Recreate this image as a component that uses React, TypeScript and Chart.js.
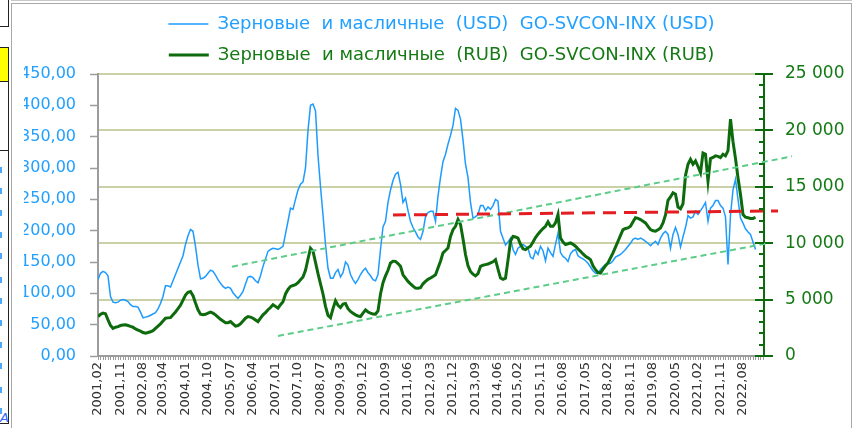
import React, { useEffect, useRef } from 'react';
import { Chart, registerables } from 'chart.js';

Chart.register(...registerables);

// ---- data ----
const TICK_LABELS = [
  '2001.02', '2001.11', '2002.08', '2003.04', '2004.01', '2004.10', '2005.07', '2006.04',
  '2007.01', '2007.10', '2008.07', '2009.03', '2009.12', '2010.09', '2011.06', '2012.03',
  '2012.12', '2013.09', '2014.06', '2015.02', '2015.11', '2016.08', '2017.05', '2018.02',
  '2018.11', '2019.08', '2020.05', '2021.02', '2021.11', '2022.08',
];

// monthly values from 2001.02 onward
const USD = [
  122, 132, 135, 133, 128, 95, 86, 85, 86, 89, 90, 89,
  87, 82, 79, 79, 78, 70, 61, 62, 63, 65, 67, 69,
  75, 84, 95, 112, 112, 110, 120, 130, 140, 150, 160, 178,
  192, 202, 199, 175, 145, 123, 124, 127, 132, 137, 135, 129,
  122, 116, 111, 108, 110, 108, 101, 96, 92, 97, 103, 115,
  126, 127, 125, 120, 117, 128, 143, 155, 167, 170, 172, 171,
  170, 172, 175, 195, 215, 236, 234, 250, 265, 274, 278, 300,
  360, 400, 402, 391, 320, 270, 225, 178, 140, 124, 124, 133,
  138, 126, 133, 150, 145, 130, 122, 116, 122, 130, 136, 140,
  133, 128, 122, 120, 130, 170, 206, 215, 245, 265, 280, 290,
  293, 274, 245, 252, 232, 215, 205, 198, 190, 186, 199, 222,
  229, 231, 231, 215, 255, 285, 310, 322, 338, 352, 368, 395,
  392, 378, 345, 306, 285, 245, 220, 222, 226, 240, 240, 232,
  238, 234, 240, 250, 247, 199, 188, 177, 182, 188, 170, 162,
  172, 175, 178, 175, 172, 158, 155, 168, 162, 175, 168, 152,
  172, 165, 159, 178, 196, 165, 159, 156, 151, 163, 168, 170,
  160, 157, 155, 152, 148, 142, 136, 132, 132, 138, 142, 146,
  147, 148, 152, 158, 160, 162, 166, 170, 175, 180, 186, 188,
  186, 188, 186, 183, 180, 176, 180, 183, 178, 188, 195, 199,
  194, 172, 194, 205, 194, 174, 190, 205, 224, 220, 222, 231,
  226, 232, 238, 245, 215, 236, 240, 248, 248, 240, 236, 222,
  146, 225, 265, 282, 250, 220, 212, 203, 198, 194, 182, 170,
];

const RUB = [
  3500, 3700, 3800, 3750, 3200, 2700, 2450, 2550, 2600, 2700, 2750, 2760,
  2700, 2620, 2550, 2400, 2300, 2200, 2080, 2020, 2080, 2150, 2250, 2450,
  2650, 2850, 3100, 3350, 3380, 3400, 3650, 3900, 4200, 4500, 4950, 5400,
  5650, 5720, 5350, 4700, 4100, 3700, 3650, 3700, 3800, 3890, 3800, 3650,
  3450, 3250, 3100, 2950, 2950, 3050, 2850, 2650, 2700, 2850, 3100, 3350,
  3500, 3450, 3350, 3200, 3050, 3350, 3650, 3850, 4100, 4300, 4550, 4400,
  4240, 4550, 4800, 5500, 5900, 6170, 6250, 6320, 6500, 6760, 7000, 7600,
  8600, 9550, 9300, 8300, 7300, 6400, 5500, 4400, 3600, 3400, 4200, 4900,
  4500, 4300, 4600, 4650, 4200, 3950, 3800, 3650, 3550, 3500, 3800, 4090,
  3900, 3800, 3720, 3700, 4000, 5500, 6500, 7100, 7600, 8250, 8400, 8390,
  8200, 7950, 7200, 6900, 6610, 6400, 6200, 6020, 6000, 6050, 6400, 6610,
  6800, 6910, 7050, 7200, 7800, 8400, 9140, 9350, 9580, 10600, 11200, 11500,
  12100, 11650, 10400, 9000, 8000, 7500, 7250, 7100, 7300, 7950, 8050, 8100,
  8150, 8250, 8350, 8540, 7700, 6910, 6800, 6900, 8500, 10170, 10600, 10550,
  10450, 9900, 9500, 9430, 9600, 9730, 10100, 10500, 10800, 11060, 11300, 11500,
  11900, 11500, 11500, 11800, 12540, 10470, 10100, 9880, 9950, 10020, 9900, 9730,
  9500, 9280, 9050, 8830, 8700, 8540, 8000, 7650, 7400, 7360, 7700, 8000,
  8250, 8700, 9140, 9650, 10170, 10700, 11210, 11300, 11350, 11500, 11900, 12250,
  12200, 12100, 11950, 11800, 11500, 11210, 11100, 11060, 11200, 11350, 11800, 12500,
  13800, 14100, 14470, 14350, 13200, 13050, 13500, 16000, 17000, 17440, 17000, 17290,
  16800, 16250, 18000, 17890, 15500, 17500, 17600, 17740, 17700, 17590, 17890, 17740,
  18200, 21000, 19000, 17500, 15800, 14320, 12540, 12300, 12250, 12200, 12200, 12300,
];

// trend lines (x = months since 2001.02, y = RUB axis units)
const UPPER_TREND_X = [53.6, 277.6];
const UPPER_TREND_Y = [7920, 17700];
const LOWER_TREND_X = [72, 268];
const LOWER_TREND_Y = [1780, 10000];
const LEVEL_X = [118, 272];
const LEVEL_Y = [12500, 12860];

const LEGEND_TEXT = [
  'Зерновые  и масличные  (USD)  GO-SVCON-INX (USD)',
  'Зерновые  и масличные  (RUB)  GO-SVCON-INX (RUB)',
];

const X_MAX = 266.4;
const LEFT_MAX = 450;
const RIGHT_MAX = 25000;

// ---- styles ----
const BLUE = '#1d9bff';
const BLUE_TEXT = '#22a0ff';
const GREEN = '#0d6b0d';
const GREEN_TEXT = '#157a15';
const OLIVE = '#cbd1a6';
const TREND = '#5ccc88';
const RED = '#e41d23';
const AXIS_GRAY = '#9c9c9c';
const FONT = "'DejaVu Sans', sans-serif";

const monthIndex = (label: string) => {
  const [y, m] = label.split('.').map(Number);
  return (y - 2001) * 12 + (m - 2);
};
const LABEL_BY_INDEX: Record<number, string> = {};
TICK_LABELS.forEach((l) => { LABEL_BY_INDEX[monthIndex(l)] = l.replace('.', ','); });

const fmtRub = (v: number) => {
  if (v < 1000) return String(v);
  return `${Math.floor(v / 1000)} ${String(v % 1000).padStart(3, '0')}`;
};

const pts = (xs: number[], ys: number[]) => xs.map((x, i) => ({ x, y: ys[i] }));

const innerTicks = {
  id: 'innerTicks',
  afterDatasetsDraw(chart: any) {
    const s = chart.scales.y1;
    const ctx = chart.ctx;
    const xr = chart.chartArea.right;
    ctx.save();
    ctx.strokeStyle = GREEN;
    ctx.lineWidth = 2;
    s.ticks.forEach((t: any) => {
      const y = Math.round(s.getPixelForValue(t.value));
      const len = t.value % 5000 === 0 ? 9 : 5;
      ctx.beginPath();
      ctx.moveTo(xr - len, y);
      ctx.lineTo(xr, y);
      ctx.stroke();
    });
    ctx.restore();
  },
};

export default function App() {
  const ref = useRef<HTMLCanvasElement | null>(null);

  useEffect(() => {
    if (!ref.current) return;
    const chart = new Chart(ref.current, {
      type: 'line',
      data: {
        datasets: [
          {
            label: 'level',
            data: pts(LEVEL_X, LEVEL_Y),
            yAxisID: 'y1',
            borderColor: RED,
            borderWidth: 3,
            borderDash: [13, 8],
            pointRadius: 0,
            clip: false as any,
            order: 0,
          },
          {
            label: 'upper',
            data: pts(UPPER_TREND_X, UPPER_TREND_Y),
            yAxisID: 'y1',
            borderColor: TREND,
            borderWidth: 2,
            borderDash: [6, 4],
            pointRadius: 0,
            clip: false as any,
            order: 1,
          },
          {
            label: 'lower',
            data: pts(LOWER_TREND_X, LOWER_TREND_Y),
            yAxisID: 'y1',
            borderColor: TREND,
            borderWidth: 2,
            borderDash: [6, 4],
            pointRadius: 0,
            clip: false as any,
            order: 2,
          },
          {
            label: LEGEND_TEXT[1],
            data: RUB.map((v, i) => ({ x: i, y: v })),
            yAxisID: 'y1',
            borderColor: GREEN,
            borderWidth: 3,
            pointRadius: 0,
            tension: 0,
            order: 3,
          },
          {
            label: LEGEND_TEXT[0],
            data: USD.map((v, i) => ({ x: i, y: v })),
            yAxisID: 'y',
            borderColor: BLUE,
            borderWidth: 1.5,
            pointRadius: 0,
            tension: 0,
            order: 4,
          },
        ],
      },
      options: {
        animation: false,
        responsive: false,
        maintainAspectRatio: false,
        layout: { padding: { left: 24, right: 0, top: 2, bottom: 0 } },
        plugins: {
          tooltip: { enabled: false },
          legend: {
            position: 'top',
            align: 'center',
            labels: {
              font: { family: FONT, size: 18 },
              padding: 13,
              usePointStyle: true,
              pointStyleWidth: 40,
              generateLabels: () => [
                {
                  text: LEGEND_TEXT[0],
                  fillStyle: BLUE,
                  strokeStyle: BLUE,
                  lineWidth: 1.5,
                  pointStyle: 'line',
                  fontColor: BLUE_TEXT,
                  hidden: false,
                  datasetIndex: 4,
                } as any,
                {
                  text: LEGEND_TEXT[1],
                  fillStyle: GREEN,
                  strokeStyle: GREEN,
                  lineWidth: 3,
                  pointStyle: 'line',
                  fontColor: GREEN_TEXT,
                  hidden: false,
                  datasetIndex: 3,
                } as any,
              ],
            },
          },
        },
        scales: {
          x: {
            type: 'linear',
            min: 0,
            max: X_MAX,
            afterBuildTicks: (scale: any) => {
              const arr = [];
              for (let i = 0; i <= Math.floor(X_MAX); i++) arr.push({ value: i });
              scale.ticks = arr;
            },
            afterFit: (scale: any) => { scale.height = 72; },
            ticks: {
              autoSkip: false,
              minRotation: 90,
              maxRotation: 90,
              padding: 2,
              color: '#333333',
              font: { family: FONT, size: 13 },
              callback: (v: any) => LABEL_BY_INDEX[Number(v)] ?? '',
            },
            grid: {
              drawOnChartArea: false,
              drawTicks: true,
              tickLength: 4,
              tickColor: AXIS_GRAY,
              tickWidth: 1,
            },
            border: { display: true, color: AXIS_GRAY, width: 2 },
          },
          y: {
            type: 'linear',
            position: 'left',
            min: 0,
            max: LEFT_MAX,
            afterFit: (scale: any) => { scale.width = 74; },
            ticks: {
              stepSize: 50,
              autoSkip: false,
              padding: 14,
              color: BLUE_TEXT,
              font: { family: FONT, size: 16 },
              callback: (v: any) => Number(v).toFixed(2).replace('.', ','),
            },
            grid: {
              drawOnChartArea: false,
              drawTicks: true,
              tickLength: 8,
              tickColor: AXIS_GRAY,
              tickWidth: 1.5,
            },
            border: { display: true, color: AXIS_GRAY, width: 2 },
          },
          y1: {
            type: 'linear',
            position: 'right',
            min: 0,
            max: RIGHT_MAX,
            afterFit: (scale: any) => { scale.width = 95; },
            ticks: {
              stepSize: 1000,
              autoSkip: false,
              padding: 12,
              color: GREEN_TEXT,
              font: { family: FONT, size: 17 },
              callback: (v: any) => (Number(v) % 5000 === 0 ? fmtRub(Number(v)) : ''),
            },
            grid: {
              drawOnChartArea: true,
              lineWidth: 2,
              color: (c: any) =>
                c.tick && c.tick.value % 5000 === 0 && c.tick.value > 0 ? OLIVE : 'rgba(0,0,0,0)',
              tickColor: (c: any) =>
                c.tick && c.tick.value % 5000 === 0 ? GREEN : 'rgba(0,0,0,0)',
              tickLength: 9,
              tickWidth: 2,
            },
            border: { display: true, color: GREEN, width: 2 },
          },
        },
      },
      plugins: [innerTicks],
    });
    return () => chart.destroy();
  }, []);

  const blueMarks = [167, 188, 210, 232, 253, 277, 298, 320, 342, 363, 387, 408];

  return (
    <div
      style={{
        position: 'fixed',
        left: 0,
        top: 0,
        width: 859,
        height: 428,
        background: '#ffffff',
        overflow: 'hidden',
      }}
    >
      {/* spreadsheet remnants on the left */}
      <div style={{ position: 'absolute', left: 0, top: 0, width: 8, height: 26, borderRight: '1px solid #222', borderBottom: '1px solid #222' }} />
      <div style={{ position: 'absolute', left: 0, top: 47, width: 8, height: 33, background: '#ffff00', borderTop: '1px solid #222', borderRight: '1px solid #222', borderBottom: '1px solid #222' }} />
      <div style={{ position: 'absolute', left: 0, top: 81, width: 8, height: 69, borderRight: '1px solid #222', borderBottom: '1px solid #222' }} />
      <div style={{ position: 'absolute', left: 0, top: 151, width: 8, height: 272, borderRight: '1px solid #222', borderBottom: '1px solid #222' }} />
      {blueMarks.map((y) => (
        <div key={y} style={{ position: 'absolute', left: 0, top: y, width: 2, height: 6, background: '#4aa8ff' }} />
      ))}
      <div style={{ position: 'absolute', left: 0, top: 410, fontFamily: FONT, fontStyle: 'italic', fontSize: 13, color: '#3366ff' }}>A</div>
      {/* chart frame */}
      <div style={{ position: 'absolute', left: 11, top: 0, width: 841, height: 1, background: '#c8c8c8' }} />
      <div style={{ position: 'absolute', left: 11, top: 3, width: 839, height: 440, border: '1px solid #a8a8a8' }} />
      <canvas ref={ref} width={859} height={428} style={{ position: 'absolute', left: 0, top: 0 }} />
    </div>
  );
}
